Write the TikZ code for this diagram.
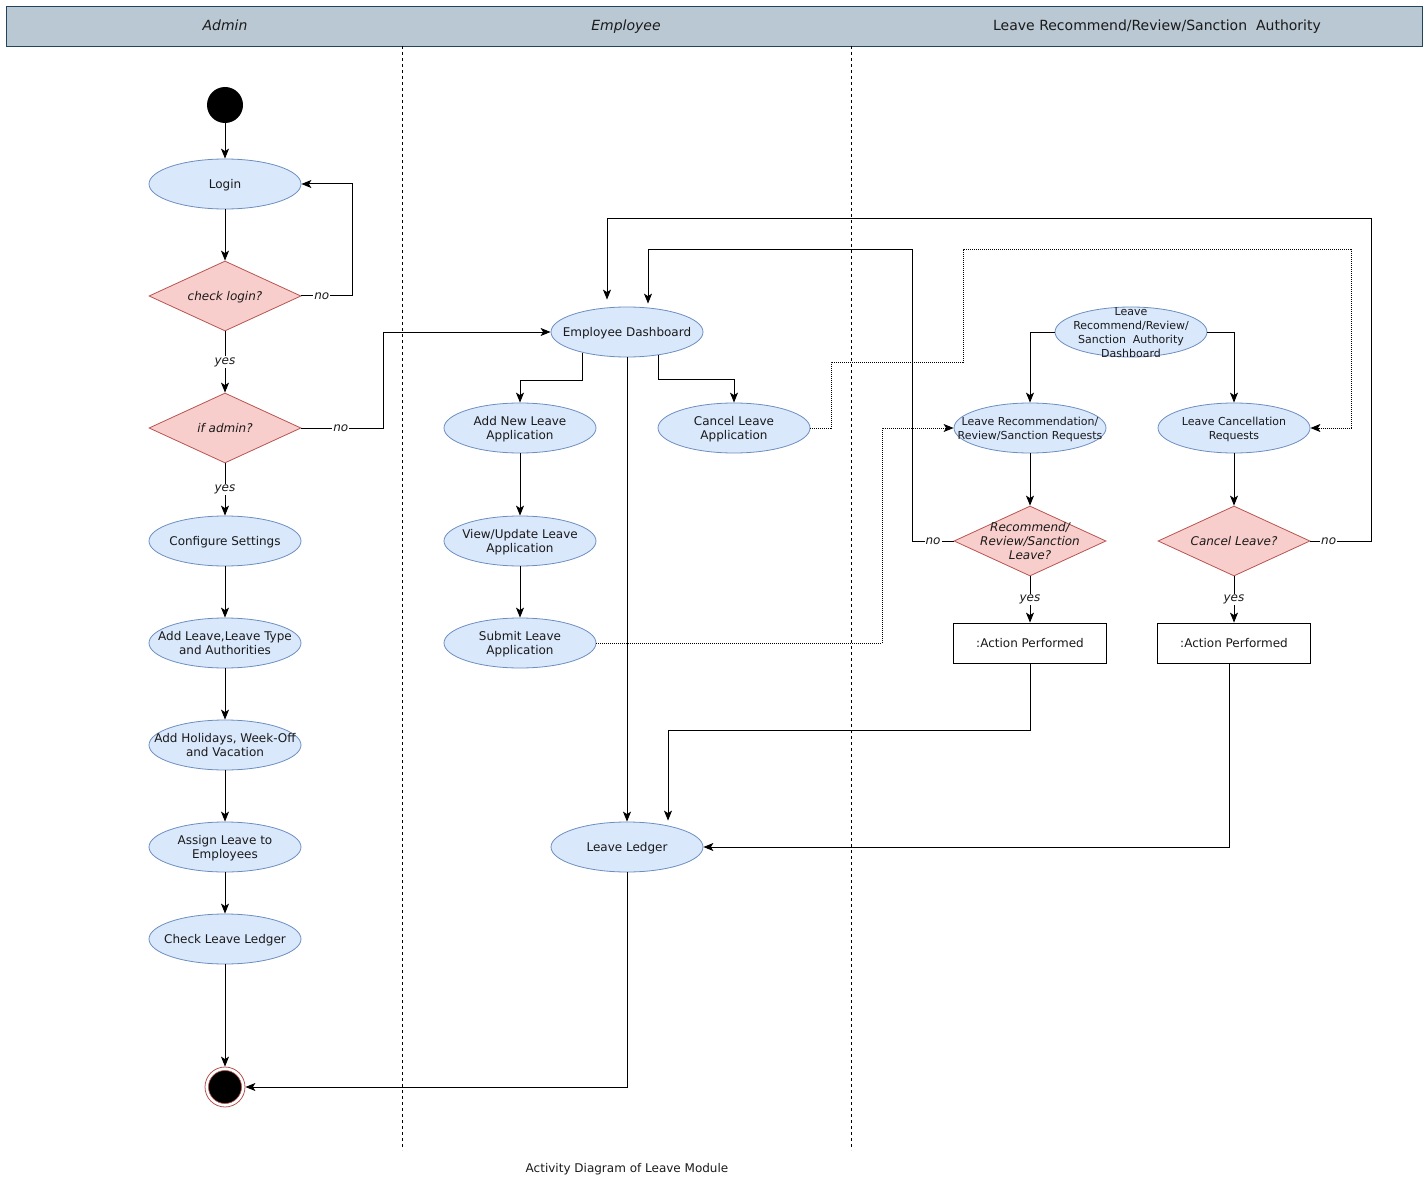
\documentclass[tikz,border=0pt]{standalone}
\usepackage{fontspec}
\setmainfont{DejaVu Sans}
\usetikzlibrary{shapes.geometric,arrows.meta,calc}
\definecolor{ellfill}{HTML}{DAE8FC}
\definecolor{elldraw}{HTML}{6C8EBF}
\definecolor{dmdfill}{HTML}{F8CECC}
\definecolor{dmddraw}{HTML}{B85450}
\definecolor{hdrfill}{HTML}{BAC8D3}
\definecolor{hdrdraw}{HTML}{23445D}
\definecolor{txt}{HTML}{1A1A1A}
\tikzset{
  ell/.style={ellipse, draw=elldraw, fill=ellfill, line width=0.8pt, minimum width=152pt, minimum height=50pt, inner xsep=-30pt, inner ysep=-8pt, text depth=0pt, align=center, text=txt, font=\fontsize{12}{14}\selectfont},
  ellsm/.style={ell, font=\fontsize{11}{14}\selectfont},
  dmd/.style={diamond, draw=dmddraw, fill=dmdfill, line width=0.8pt, minimum width=152pt, minimum height=70pt, inner xsep=-30pt, inner ysep=-10pt, text depth=0pt, align=center, text=txt, font=\fontsize{12}{14}\selectfont\itshape},
  actbox/.style={rectangle, draw=black, fill=white, line width=0.8pt, minimum width=153pt, minimum height=40pt, inner sep=0pt, text depth=0pt, text=txt, font=\fontsize{12}{14}\selectfont},
  arr/.style={draw=black, line width=1pt, -{Stealth[length=10pt,width=8pt,inset=2.5pt]}},
  dots/.style={arr, dash pattern=on 1pt off 1pt},
  lbl/.style={fill=white, inner sep=1pt, text=txt, font=\fontsize{12}{14}\selectfont\itshape},
  hdr/.style={anchor=base, text=txt, font=\fontsize{14}{16}\selectfont},
  lane/.style={draw=black, line width=0.7pt, dash pattern=on 3pt off 3pt}
}
\begin{document}
\begin{tikzpicture}[x=1pt,y=-1pt]
\useasboundingbox (0,0) rectangle (1428,1185);
% header
\node[draw=hdrdraw, fill=hdrfill, line width=0.8pt, minimum width=1416pt, minimum height=40pt, inner sep=0pt] (header) at (714,26) {};
\node[hdr, font=\fontsize{14}{16}\selectfont\itshape] (hA) at (225,31) {Admin};
\node[hdr, font=\fontsize{14}{16}\selectfont\itshape] (hE) at (626,31) {Employee};
\node[hdr] (hL) at (1157,31) {Leave Recommend/Review/Sanction\ \ Authority};
% lanes
\coordinate (l1t) at (402,46); \coordinate (l1b) at (402,1150);
\coordinate (l2t) at (851,46); \coordinate (l2b) at (851,1150);
\draw[lane] (l1t) -- (l1b);
\draw[lane] (l2t) -- (l2b);
% admin lane
\node[circle, fill=black, minimum size=36pt, inner sep=0pt] (start) at (225,105) {};
\node[ell] (login) at (225,184) {Login};
\node[dmd] (chk) at (225,296) {check login?};
\node[dmd] (ifa) at (225,428) {if admin?};
\node[ell] (conf) at (225,541) {Configure Settings};
\node[ell] (addl) at (225,643) {Add Leave,Leave Type\\and Authorities};
\node[ell] (hol) at (225,745) {Add Holidays, Week-Off\\and Vacation};
\node[ell] (asg) at (225,847) {Assign Leave to\\Employees};
\node[ell] (chl) at (225,939) {Check Leave Ledger};
\node[circle, draw=dmddraw, fill=white, line width=0.8pt, minimum size=40pt, inner sep=0pt] (end) at (225,1087) {};
\node[circle, draw=dmddraw, fill=black, line width=0.6pt, minimum size=33pt, inner sep=0pt] (endin) at (225,1087) {};
% employee lane
\node[ell] (dash) at (627,332) {Employee Dashboard};
\node[ell] (addn) at (520,428) {Add New Leave\\Application};
\node[ell] (view) at (520,541) {View/Update Leave\\Application};
\node[ell] (sub) at (520,643) {Submit Leave\\Application};
\node[ell] (canc) at (734,428) {Cancel Leave\\Application};
\node[ell] (ledger) at (627,847) {Leave Ledger};
% authority lane
\node[ellsm] (adash) at (1131,332) {Leave\\Recommend/Review/\\Sanction\ \ Authority\\Dashboard};
\node[ellsm] (lrr) at (1030,428) {Leave Recommendation/\\Review/Sanction Requests};
\node[ellsm] (lcr) at (1234,428) {Leave Cancellation\\Requests};
\node[dmd] (rdec) at (1030,541) {Recommend/\\Review/Sanction\\Leave?};
\node[dmd] (cdec) at (1234,541) {Cancel Leave?};
\node[actbox] (act1) at (1030,643) {:Action Performed};
\node[actbox] (act2) at (1234,643) {:Action Performed};
% caption
\node[text=txt, font=\fontsize{12}{14}\selectfont] (cap) at (627,1169) {Activity Diagram of Leave Module};
% admin connectors
\draw[arr] (start) -- (login);
\draw[arr] (login) -- (chk);
\draw[arr] (chk.east) -- node[lbl, pos=0.4] {no} ++(51,0) |- (login.east);
\draw[arr] (chk.south) -- node[lbl] {yes} (ifa.north);
\draw[arr] (ifa.east) -- node[lbl, pos=0.48] {no} ++(82,0) |- (dash.west);
\draw[arr] (ifa.south) -- node[lbl] {yes} (conf.north);
\draw[arr] (conf) -- (addl);
\draw[arr] (addl) -- (hol);
\draw[arr] (hol) -- (asg);
\draw[arr] (asg) -- (chl);
\draw[arr] (chl) -- (end);
\draw[arr] (ledger.south) |- (end.east);
% employee connectors
\draw[arr] (dash.205) -- ++(0,28) -| (addn.north);
\draw[arr] (dash.324) -- ++(0,24) -| (canc.north);
\draw[arr] (dash.south) -- (ledger.north);
\draw[arr] (addn) -- (view);
\draw[arr] (view) -- (sub);
\draw[dots] (sub.east) -- ++(286,0) |- (lrr.west);
\draw[dots] (canc.east) -- ++(21,0) -- ++(0,-66) -- ++(132,0) -- ++(0,-112) -- ++(388,0) |- (lcr.east);
% authority connectors
\draw[arr] (adash.west) -| (lrr.north);
\draw[arr] (adash.east) -| (lcr.north);
\draw[arr] (lrr) -- (rdec);
\draw[arr] (lcr) -- (cdec);
\draw[arr] (rdec.west) -- node[lbl] {no} ++(-41,0) -- ++(0,-291) -| ($(dash.north)+(21,-3)$);
\draw[arr] (cdec.east) -- node[lbl, pos=0.3] {no} ++(61,0) -- ++(0,-322) -| ($(dash.north)+(-20,-7)$);
\draw[arr] (rdec.south) -- node[lbl] {yes} (act1.north);
\draw[arr] (cdec.south) -- node[lbl] {yes} (act2.north);
\draw[arr] (act1.south) -- ++(0,67) -| ($(ledger.north)+(41,-1)$);
\draw[arr] ($(act2.south)+(-5,0)$) |- (ledger.east);
\end{tikzpicture}
\end{document}
